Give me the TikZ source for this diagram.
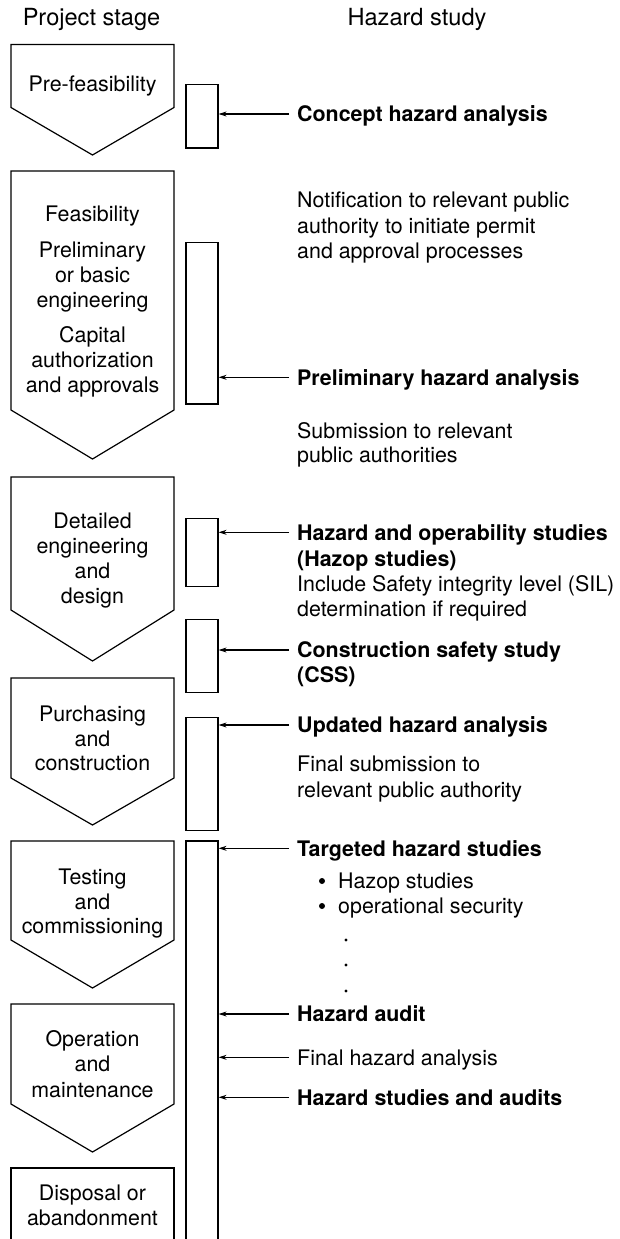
\documentclass[tikz,border=0pt]{standalone}
\usepackage{fontspec}
\setmainfont{TeX Gyre Heros}
\usetikzlibrary{arrows.meta}
\newcommand\stagepent[3]{\draw[pentline] (11,#1) -- (174,#1) -- (174,#2) -- (92.5,#3) -- (11,#2) -- cycle;}
\begin{document}
\begin{tikzpicture}[x=1pt,y=-1pt,
  pentline/.style={line width=1.2pt, line join=miter},
  lt/.style={font=\fontsize{21.4}{25}\selectfont, inner sep=0pt, anchor=base},
  rt/.style={font=\fontsize{21.4}{25}\selectfont, inner sep=0pt, anchor=base west},
  rtb/.style={rt, font=\fontsize{21.4}{25}\selectfont\bfseries},
  hd/.style={font=\fontsize{23.6}{28}\selectfont, inner sep=0pt, anchor=base},
  rbox/.style={draw, minimum width=32pt, inner sep=0pt, line width=1.2pt},
  arr/.style={-{Stealth[length=8pt,width=5pt]}, line width=1.1pt},
]
\useasboundingbox (0,0) rectangle (619,1239);

% headers
\node[hd] (h1) at (91.5,26) {Project stage};
\node[hd] (h2) at (417,26) {Hazard study};

% stage pentagons
\stagepent{44.5}{107.5}{155}
\stagepent{171}{410}{459}
\stagepent{477}{610}{661}
\stagepent{678}{778}{825}
\stagepent{841}{940}{988}
\stagepent{1004}{1104}{1152}
\node[draw, line width=1.2pt, minimum width=163pt, minimum height=90pt, inner sep=0pt] (disp) at (92.5,1213) {};

% stage texts
\node[lt] (s1) at (92.5,91) {Pre-feasibility};
\node[lt] (s2a) at (92.5,221) {Feasibility};
\node[lt] (s2b) at (92.5,257.5) {Preliminary};
\node[lt] (s2c) at (92.5,282.5) {or basic};
\node[lt] (s2d) at (92.5,307.5) {engineering};
\node[lt] (s2e) at (92.5,342.5) {Capital};
\node[lt] (s2f) at (92.5,367.5) {authorization};
\node[lt] (s2g) at (92.5,392.5) {and approvals};
\node[lt] (s3a) at (92.5,528) {Detailed};
\node[lt] (s3b) at (92.5,553.5) {engineering};
\node[lt] (s3c) at (92.5,578) {and};
\node[lt] (s3d) at (92.5,603.5) {design};
\node[lt] (s4a) at (92.5,721) {Purchasing};
\node[lt] (s4b) at (92.5,746) {and};
\node[lt] (s4c) at (92.5,770.5) {construction};
\node[lt] (s5a) at (92.5,884) {Testing};
\node[lt] (s5b) at (92.5,909) {and};
\node[lt] (s5c) at (92.5,933.5) {commissioning};
\node[lt] (s6a) at (92.5,1046.5) {Operation};
\node[lt] (s6b) at (92.5,1071.5) {and};
\node[lt] (s6c) at (92.5,1097.5) {maintenance};
\node[lt] (s7a) at (92.5,1200) {Disposal or};
\node[lt] (s7b) at (92.5,1225) {abandonment};

% hazard study bars
\node[rbox, minimum height=63.5pt] (r1) at (202,116.25) {};
\node[rbox, minimum height=161.7pt] (r2) at (202,323.2) {};
\node[rbox, minimum height=68.4pt] (r3) at (202,552.5) {};
\node[rbox, minimum height=73pt] (r4) at (202,655.8) {};
\node[rbox, minimum height=113.4pt] (r5) at (202,774) {};
\node[rbox, minimum height=420pt] (r6) at (202,1051) {};

% hazard study texts
\node[rtb] (t1) at (297,121) {Concept hazard analysis};
\node[rt] (t2a) at (297,207) {Notification to relevant public};
\node[rt] (t2b) at (297,233) {authority to initiate permit};
\node[rt] (t2c) at (297,258) {and approval processes};
\node[rtb] (t3) at (297,385) {Preliminary hazard analysis};
\node[rt] (t4a) at (297,438) {Submission to relevant};
\node[rt] (t4b) at (297,462.5) {public authorities};
\node[rtb] (t5a) at (297,540) {Hazard and operability studies};
\node[rtb] (t5b) at (297,566) {(Hazop studies)};
\node[rt] (t5c) at (297,591.5) {Include Safety integrity level (SIL)};
\node[rt] (t5d) at (297,616) {determination if required};
\node[rtb] (t6a) at (297,657.5) {Construction safety study};
\node[rtb] (t6b) at (297,682.5) {(CSS)};
\node[rtb] (t7) at (297,732.5) {Updated hazard analysis};
\node[rt] (t8a) at (297,771.5) {Final submission to};
\node[rt] (t8b) at (297,797) {relevant public authority};
\node[rtb] (t9) at (297,856) {Targeted hazard studies};
\fill (322,881) circle (3pt);
\node[rt] (t9a) at (338,888.5) {Hazop studies};
\fill (322,906) circle (3pt);
\node[rt] (t9b) at (338,913.5) {operational security};
\fill (346,940) circle (1.7pt);
\fill (346,965) circle (1.7pt);
\fill (346,991) circle (1.7pt);
\node[rtb] (t10) at (297,1021.5) {Hazard audit};
\node[rt] (t11) at (297,1065) {Final hazard analysis};
\node[rtb] (t12) at (297,1105) {Hazard studies and audits};

% arrow starts
\coordinate (a1) at (289,114);
\coordinate (a2) at (289,377.3);
\coordinate (a3) at (289,532.3);
\coordinate (a4) at (289,650);
\coordinate (a5) at (289,725);
\coordinate (a6) at (289,848.3);
\coordinate (a7) at (289,1014);
\coordinate (a8) at (289,1057.3);
\coordinate (a9) at (289,1097.3);

\draw[arr] (a1) -- (a1 -| r1.east);
\draw[arr] (a2) -- (a2 -| r2.east);
\draw[arr] (a3) -- (a3 -| r3.east);
\draw[arr] (a4) -- (a4 -| r4.east);
\draw[arr] (a5) -- (a5 -| r5.east);
\draw[arr] (a6) -- (a6 -| r6.east);
\draw[arr] (a7) -- (a7 -| r6.east);
\draw[arr] (a8) -- (a8 -| r6.east);
\draw[arr] (a9) -- (a9 -| r6.east);
\end{tikzpicture}
\end{document}
